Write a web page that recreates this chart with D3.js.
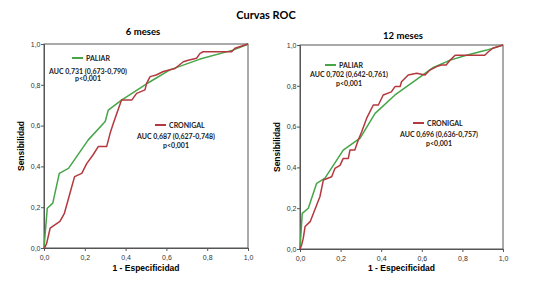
<!DOCTYPE html>
<html>
<head>
<meta charset="utf-8">
<script src="https://cdn.jsdelivr.net/npm/d3@7"></script>
<style>
  body { margin: 0; background: #fff; }
  svg { display: block; }
</style>
</head>
<body>
<svg></svg>
<script>
// ROC points: [1 - especificidad, sensibilidad]
const paliar6 = [[0,0],[0.016,0.195],[0.043,0.22],[0.075,0.366],[0.12,0.39],[0.217,0.53],[0.30,0.62],
    [0.315,0.676],[0.38,0.725],[0.52,0.815],[0.617,0.873],[0.765,0.926],[0.926,0.97],[0.99,0.995],[1,1]];
const cronigal6 = [[0,0],[0.006,0.006],[0.013,0.023],[0.03,0.097],[0.078,0.13],[0.10,0.17],[0.136,0.30],
    [0.15,0.35],[0.185,0.366],[0.21,0.415],[0.24,0.456],[0.266,0.497],[0.307,0.497],[0.324,0.562],
    [0.34,0.611],[0.38,0.725],[0.43,0.725],[0.454,0.758],[0.495,0.775],[0.503,0.807],[0.52,0.84],
    [0.55,0.848],[0.585,0.865],[0.642,0.88],[0.683,0.913],[0.707,0.92],[0.748,0.93],[0.765,0.954],
    [0.78,0.962],[0.92,0.962],[0.936,0.979],[0.97,0.99],[1,1]];
const paliar12 = [[0,0],[0.011,0.175],[0.041,0.2],[0.082,0.322],[0.123,0.347],[0.213,0.485],[0.296,0.543],
    [0.37,0.665],[0.468,0.755],[0.57,0.828],[0.657,0.89],[0.74,0.926],[0.82,0.95],[0.92,0.975],[1,1]];
const cronigal12 = [[0,0],[0.008,0.02],[0.016,0.052],[0.025,0.11],[0.05,0.134],[0.098,0.256],[0.115,0.338],
    [0.156,0.354],[0.172,0.395],[0.197,0.41],[0.213,0.444],[0.238,0.444],[0.246,0.485],[0.27,0.485],
    [0.287,0.534],[0.304,0.575],[0.328,0.64],[0.361,0.706],[0.386,0.706],[0.41,0.755],[0.45,0.77],
    [0.468,0.796],[0.493,0.796],[0.5,0.82],[0.533,0.853],[0.575,0.861],[0.616,0.853],[0.64,0.877],
    [0.673,0.894],[0.697,0.902],[0.72,0.902],[0.74,0.926],[0.764,0.95],[0.82,0.95],[0.91,0.95],
    [0.928,0.967],[0.95,0.984],[0.985,0.995],[1,1]];

const tickValues = [0, 0.2, 0.4, 0.6, 0.8, 1.0];
const panelTitles = ["6 meses", "12 meses"];
const aucTexts = [
    ["AUC 0,731 (0,673-0,790)", "AUC 0,687 (0,627-0,748)"],
    ["AUC 0,702 (0,642-0,761)", "AUC 0,696 (0,636-0,757)"]
];
const seriesNames = ["PALIAR", "CRONIGAL"];

const width = 560, height = 288;
const svg = d3.select("svg").attr("width", width).attr("height", height);
const green = "#47a548", red = "#b3393e";
const fmt = d3.formatLocale({ decimal: ",", thousands: ".", grouping: [3], currency: ["", ""] }).format(".1f");

svg.append("text")
    .attr("x", 266).attr("y", 19)
    .attr("text-anchor", "middle")
    .style("font-family", "Lato, 'Open Sans', sans-serif")
    .style("font-size", "11px")
    .style("font-weight", "bold")
    .text("Curvas ROC");

const panels = [
    { x0: 44, x1: 248, y0: 44, y1: 248, title: panelTitles[0], tx: 143, ty: 35,
      series: [paliar6, cronigal6], auc: aucTexts[0],
      leg: [{ lx: 72, ly: 58, cx: 88, ay: 73.5, py: 81 }, { lx: 155, ly: 125, cx: 176, ay: 139, py: 147.5 }] },
    { x0: 300, x1: 503, y0: 45, y1: 249, title: panelTitles[1], tx: 403, ty: 39,
      series: [paliar12, cronigal12], auc: aucTexts[1],
      leg: [{ lx: 325, ly: 65, cx: 349, ay: 76.5, py: 86 }, { lx: 413, ly: 123, cx: 439, ay: 136.5, py: 146 }] }
];

panels.forEach(p => {
    const x = d3.scaleLinear().domain([0, 1]).range([p.x0, p.x1]);
    const y = d3.scaleLinear().domain([0, 1]).range([p.y1, p.y0]);
    const g = svg.append("g");

    g.append("rect")
        .attr("x", p.x0).attr("y", p.y0)
        .attr("width", p.x1 - p.x0).attr("height", p.y1 - p.y0)
        .attr("fill", "none").attr("stroke", "#555").attr("stroke-width", 1);

    const xAxis = g.append("g")
        .attr("transform", `translate(0,${p.y1})`)
        .call(d3.axisBottom(x).tickValues(tickValues).tickSize(3).tickFormat(fmt));
    const yAxis = g.append("g")
        .attr("transform", `translate(${p.x0},0)`)
        .call(d3.axisLeft(y).tickValues(tickValues).tickSize(3).tickFormat(fmt));
    [xAxis, yAxis].forEach(a => {
        a.select(".domain").attr("stroke", "#555");
        a.selectAll(".tick line").attr("stroke", "#555");
        a.selectAll(".tick text")
            .style("font-family", "Arial, 'Liberation Sans', sans-serif")
            .style("font-size", "7px")
            .attr("fill", "#333");
    });
    xAxis.selectAll(".tick text").attr("dy", "0.9em");
    yAxis.selectAll(".tick text").attr("x", -3.5);

    g.append("text")
        .attr("x", p.tx).attr("y", p.ty)
        .attr("text-anchor", "middle")
        .style("font-family", "Lato, 'Open Sans', sans-serif")
        .style("font-size", "9.5px")
        .style("font-weight", "bold")
        .text(p.title);

    g.append("text")
        .attr("x", (p.x0 + p.x1) / 2).attr("y", 271)
        .attr("text-anchor", "middle")
        .style("font-family", "Arial, 'Liberation Sans', sans-serif")
        .style("font-size", "8.5px")
        .style("font-weight", "bold")
        .text("1 - Especificidad");

    g.append("text")
        .attr("transform", `translate(${p.x0 - 20},${(p.y0 + p.y1) / 2}) rotate(-90)`)
        .attr("text-anchor", "middle")
        .style("font-family", "Arial, 'Liberation Sans', sans-serif")
        .style("font-size", "8.5px")
        .style("font-weight", "bold")
        .text("Sensibilidad");

    const line = d3.line().x(d => x(d[0])).y(d => y(d[1]));
    p.series.forEach((s, i) => {
        g.append("path")
            .datum(s)
            .attr("d", line)
            .attr("fill", "none")
            .attr("stroke", i === 0 ? green : red)
            .attr("stroke-width", 1.5)
            .attr("stroke-linejoin", "round");
    });

    p.leg.forEach((l, i) => {
        const col = i === 0 ? green : red;
        g.append("line")
            .attr("x1", l.lx).attr("x2", l.lx + 11)
            .attr("y1", l.ly).attr("y2", l.ly)
            .attr("stroke", col).attr("stroke-width", 2);
        const ts = [
            { x: l.lx + 14, y: l.ly + 2.5, a: "start", t: seriesNames[i] },
            { x: l.cx, y: l.ay, a: "middle", t: p.auc[i] },
            { x: l.cx, y: l.py, a: "middle", t: "p<0,001" }
        ];
        ts.forEach(t => {
            g.append("text")
                .attr("x", t.x).attr("y", t.y)
                .attr("text-anchor", t.a)
                .style("font-family", "Lato, 'Open Sans', sans-serif")
                .style("font-size", "7px")
                .style("font-weight", "bold")
                .attr("fill", "#222")
                .text(t.t);
        });
    });
});
</script>
</body>
</html>
